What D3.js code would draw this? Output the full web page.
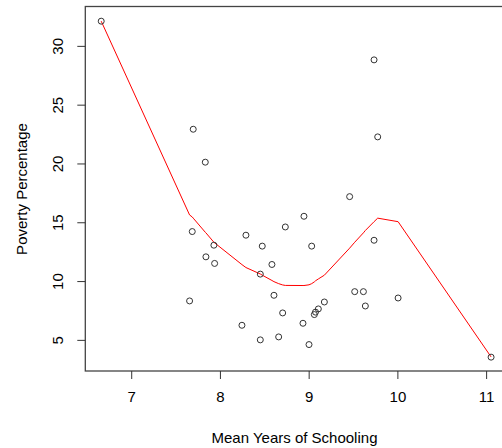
<!DOCTYPE html>
<html>
<head>
<meta charset="utf-8">
<script src="https://cdn.jsdelivr.net/npm/d3@7"></script>
<style>
  html, body { margin: 0; padding: 0; background: #fff; }
  svg { display: block; }
  text { font-family: "Liberation Sans", Arial, sans-serif; fill: #000; }
</style>
</head>
<body>
<svg id="chart" width="502" height="448"></svg>
<script>
// Data
const schooling = [6.662, 7.699, 7.835, 7.688, 7.932, 7.842, 7.940, 7.658, 8.293, 8.477,
  8.455, 8.586, 8.737, 8.947, 9.034, 8.609, 8.707, 8.248, 8.455, 8.662,
  8.936, 9.004, 9.064, 9.077, 9.109, 9.177, 9.462, 9.737, 9.778, 9.737,
  9.519, 9.617, 9.639, 10.008, 11.056];
const poverty = [32.1, 22.91, 20.11, 14.21, 13.05, 12.06, 11.50, 8.31, 13.90, 12.97,
  10.59, 11.41, 14.60, 15.51, 12.97, 8.79, 7.29, 6.24, 5.00, 5.25,
  6.41, 4.60, 7.15, 7.36, 7.63, 8.22, 17.18, 28.81, 22.26, 13.47,
  9.10, 9.10, 7.88, 8.56, 3.53];
// smoothed (lowess) curve
const trendX = [6.662, 7.658, 7.688, 7.699, 7.835, 7.842, 7.932, 7.940, 8.248, 8.293,
  8.455, 8.477, 8.586, 8.609, 8.662, 8.707, 8.737, 8.936, 8.947, 9.004,
  9.034, 9.064, 9.077, 9.109, 9.177, 9.462, 9.519, 9.617, 9.639, 9.737,
  9.778, 10.008, 11.056];
const trendY = [32.1, 15.62, 15.45, 15.35, 14.15, 14.1, 13.3, 13.25, 11.4, 11.15,
  10.6, 10.5, 10.05, 9.95, 9.78, 9.67, 9.63, 9.62, 9.62, 9.68,
  9.78, 9.93, 10.02, 10.18, 10.5, 12.8, 13.3, 14.1, 14.3, 15.05,
  15.35, 15.05, 3.55];
const xTicks = [7, 8, 9, 10, 11];
const yTicks = [5, 10, 15, 20, 25, 30];

const svg = d3.select("#chart");
const pLeft = 85.3, pRight = 507, pTop = 6.5, pBottom = 371;

const x = d3.scaleLinear().domain([6.4826, 11.2354]).range([pLeft, pRight]);
const y = d3.scaleLinear().domain([2.352, 33.348]).range([pBottom, pTop]);

// box
svg.append("rect")
  .attr("x", pLeft).attr("y", pTop)
  .attr("width", pRight - pLeft).attr("height", pBottom - pTop)
  .attr("fill", "none").attr("stroke", "#444").attr("stroke-width", 1.3);

// x axis
const xAxis = svg.append("g").attr("transform", `translate(0,${pBottom})`)
  .call(d3.axisBottom(x).tickValues(xTicks).tickSize(8).tickPadding(12).tickFormat(d3.format("d")));
xAxis.select(".domain").remove();
xAxis.selectAll("line").attr("stroke", "#333");
xAxis.selectAll("text").attr("font-size", 15).attr("font-family", "Liberation Sans, Arial, sans-serif").attr("fill", "#000");

// y axis
const yAxis = svg.append("g").attr("transform", `translate(${pLeft},0)`)
  .call(d3.axisLeft(y).tickValues(yTicks).tickSize(8).tickFormat(d3.format("d")));
yAxis.select(".domain").remove();
yAxis.selectAll("line").attr("stroke", "#333");
yAxis.selectAll("text")
  .attr("font-size", 15).attr("font-family", "Liberation Sans, Arial, sans-serif").attr("fill", "#000")
  .attr("x", null).attr("dy", null)
  .attr("text-anchor", "middle")
  .attr("transform", "translate(-22,0) rotate(-90)");

// trend line
svg.append("path")
  .datum(trendX.map((d, i) => [d, trendY[i]]))
  .attr("fill", "none").attr("stroke", "#ff0000").attr("stroke-width", 1)
  .attr("d", d3.line().x(d => x(d[0])).y(d => y(d[1])));

// points
svg.append("g").selectAll("circle")
  .data(schooling.map((d, i) => [d, poverty[i]]))
  .join("circle")
  .attr("cx", d => x(d[0])).attr("cy", d => y(d[1]))
  .attr("r", 3).attr("fill", "none").attr("stroke", "#333").attr("stroke-width", 1);

// titles
svg.append("text").attr("x", 294.5).attr("y", 443)
  .attr("text-anchor", "middle").attr("font-size", 15)
  .text("Mean Years of Schooling");
svg.append("text")
  .attr("transform", "translate(26.5,189) rotate(-90)")
  .attr("text-anchor", "middle").attr("font-size", 15)
  .text("Poverty Percentage");
</script>
</body>
</html>
